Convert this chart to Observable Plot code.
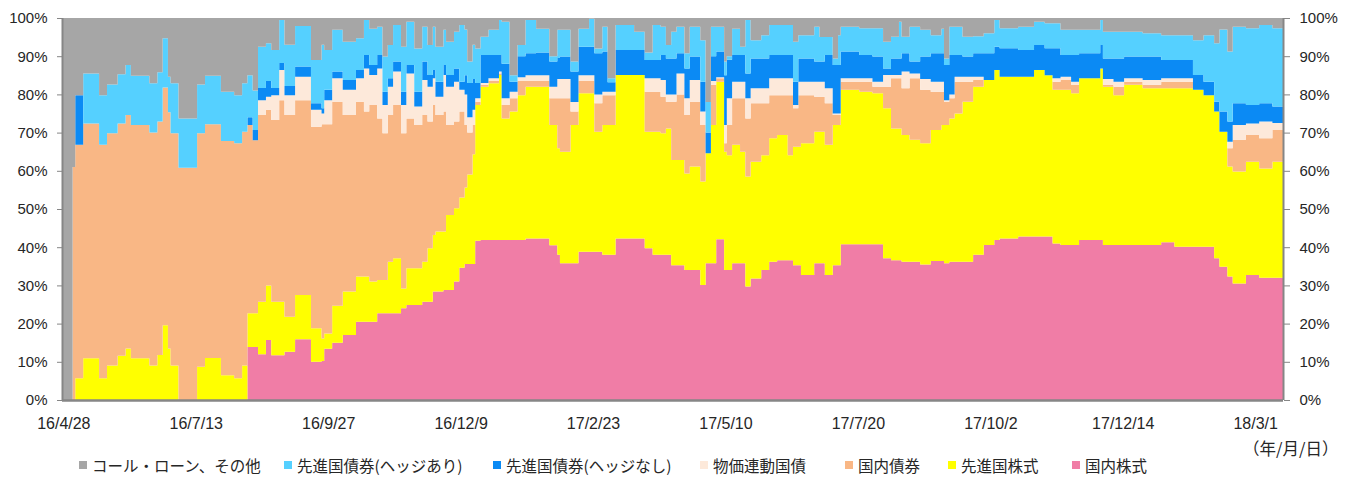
<!DOCTYPE html>
<html><head><meta charset="utf-8">
<script src="https://cdn.jsdelivr.net/npm/d3@7"></script>
<script src="https://cdn.jsdelivr.net/npm/@observablehq/plot@0.6"></script>
<style>
body{margin:0;background:#fff;}
#wrap{position:relative;width:1351px;height:484px;overflow:hidden;}
#unit{position:absolute;left:1243px;top:437px;font:16.5px "Noto Sans CJK JP",sans-serif;color:#262626;white-space:nowrap;line-height:22px;}
.item{position:absolute;top:455px;display:flex;align-items:center;white-space:nowrap;font:15.5px "Noto Sans CJK JP",sans-serif;color:#262626;line-height:20px;}
.sw{width:8px;height:8px;margin-right:5px;}
</style></head><body>
<div id="wrap"></div>
<script>
// ---- DATA ----
const tickLabels = ["16/4/28","16/7/13","16/9/27","16/12/9","17/2/23","17/5/10","17/7/20","17/10/2","17/12/14","18/3/1"];
const labelEvery = 50;          // business days between labels
const categoryCount = 461;      // business days in chart
const seriesNames = ["国内株式","先進国株式","国内債券","物価連動国債","先進国債券(ヘッジなし)","先進国債券(ヘッジあり)","コール・ローン、その他"];
const seriesColors = ["#F07DA6","#FFFF00","#F9B785","#FDE9DA","#0B8AF4","#55D0FF","#A6A6A6"];

// business-day index where each reading starts
const idx = [0,4,5,8,14,17,21,24,26,33,36,38,40,41,44,51,54,60,65,68,70,72,74,77,79,82,84,88,94,98,99,102,106,111,114,116,119,121,123,125,128,130,133,136,138,140,141,144,145,148,150,152,153,155,156,158,161,165,166,169,172,175,179,184,187,188,192,195,199,201,204,206,209,216,220,223,226,228,230,232,235,237,241,243,245,247,250,251,253,256,258,260,264,267,270,274,276,278,279,284,286,288,291,293,294,301,306,310,313,316,317,320,324,328,332,333,335,337,340,344,348,352,354,361,367,371,374,377,381,384,392,393,397,401,408,415,420,427,431,435,437,440,442,447,452,457];

const domesticEquity = [0,0,0,0,0,0,0,0,0,0,0,0,0,0,0,0,0,0,0,0,13.9,13.9,12,15.7,11.7,11.7,12.6,15.9,10,10.2,13.4,15,17,20.5,20.5,20.5,22.7,22.7,22.7,22.7,24,24.9,24.9,25.7,25.7,28.4,28.4,28.8,28.8,31,34.6,35.6,35.6,35.6,41.7,41.9,41.9,41.9,41.9,41.9,41.9,42.3,42.3,40.5,38,35.8,35.8,38.8,38.8,38.8,38,38,42.3,42.3,39.7,38,38,38,35.3,35.3,34,34,30.1,35.8,35.8,42.1,34,34,35.8,35.8,29.7,31.8,34,36.2,36.6,36.6,35.3,35.3,32.7,35.8,35.8,32.7,35.3,35.3,40.8,40.8,40.8,37.1,36.6,36.6,36.2,36.2,35.5,36.4,36.4,35.8,36.2,36.2,36.2,38,40.6,41.9,42.3,42.8,42.8,42.8,41,40.6,40.6,41.9,41.9,40.6,40.6,40.6,40.6,41.3,40.1,40.1,40.1,37.1,34.9,32.3,30.5,32.7,32,32];

const foreignEquity = [0,0,5.7,10.9,5.7,9,11.6,13.5,10.9,9,11.8,19.6,13.5,9,0,8.7,11,6.5,5.7,9,8.8,8.8,13.7,14.3,14,14,9.2,11.6,8.8,5.9,4,9.7,11.4,11.8,11.8,10.5,8.7,8.7,13.5,14.4,5.2,9.6,9.6,10.5,14,14.8,15.7,15.3,19.6,19.2,18.4,20,23.4,28.7,35.5,40.1,41,43.2,31.8,33.6,37.9,39.7,39.7,31.5,27.9,29.2,36.2,41.5,41.5,31.4,34,34,42.8,42.8,30.5,32.2,31.8,33.1,27.5,27.5,25.3,27.1,27.1,28.8,36.2,41.2,31,30.1,31,29.2,28.8,30.6,30.1,32.3,32.8,27.5,31,31,34.5,34.4,34.4,34.1,36.7,36.7,40.4,39.9,39.5,39.3,34.5,34.5,33.2,31.9,31.7,34.3,35.6,36.2,37.5,38.8,41.9,44,43.2,44.5,42.3,41.8,43.6,42.2,40.2,40.6,39.7,42.3,44.9,41.4,39.2,41.9,41,40.3,41.5,41.1,39.7,38.4,35.3,28.8,29.3,29.7,28.6,30.4];

const domesticBond = [0,61,61.1,61.5,61.1,60.8,60.8,61.1,61.1,61,61.1,62.2,61.8,60.8,60.8,61.1,61.2,61.3,61.5,61.2,49.3,45.3,48.9,46,47.6,52.8,52.8,51,52.7,56.1,54.8,53.3,46.2,45.8,43.2,46.2,42.3,38.4,38.4,40.1,40.6,39.2,37.5,38.4,33.2,34,30.5,31.4,23.6,22.7,22.5,16.4,11,7.7,0.8,0.5,0.6,0.4,3.5,3.5,3.7,1.5,1.5,7,13.1,14,3.5,3.2,3.2,7.5,7.8,7.8,0,0,10.5,10.5,9.6,7,15.3,17.2,15.3,17,14.8,0,10.5,0.9,2.2,7.9,12.2,14,15.2,15.3,13.6,11.3,10.4,15.7,10.1,13.5,12.6,9.2,9.2,10.9,2.6,2.6,2.1,2.6,1.7,5.6,13.1,13.1,12.2,16.1,14,10,8.7,6.1,5.3,8.3,5.2,1.8,0,0,0,0,0,0,2.1,2.6,2.2,0,0,0.5,2.2,0.8,0.9,1.7,1.7,0,0,0,0,4.8,8.3,7,7.9,8.3];

const inflationBond = [0,0,0,0,0,0,0,0,0,0,0,0,0,0,0,0,0,0,0,0,0,0,3.9,3.4,6.5,7.9,5.2,6.1,4.5,2.8,6.3,6.2,6.6,6.1,11.3,7.9,13.1,7.4,7.4,8.8,7.4,11.8,4.8,9.2,9.1,7,4.8,9.6,10,10.4,5.7,8,4,4,1,0.5,0.7,0.5,1.8,1.7,1,1.5,1.5,3,5,5,2.5,1.5,1.5,2.3,0.9,0.9,0,0,3.5,3.5,4.4,1.9,1.9,5.5,4.4,5.7,3.5,0,1,0.3,4.8,7,4.3,4.3,5.3,3.9,3.9,4.4,4.4,4.4,0.8,3.5,3.5,3.9,3.9,3.9,0.4,0.4,0.9,0.9,1.3,3.1,0.9,0.9,4.4,1.3,2.8,2.6,2.6,0.4,1,1.3,1.3,0.8,0,0,0,0,0,0,0.9,0.8,0.8,0,0,1.5,1.3,0.9,1.3,0.9,0.9,0,0,0,0,1.7,3.9,3,4.4,1.8];

const foreignBondUnhedged = [0,0,13,0,0,0,0,0,0,0,0,0,0,0,0,0,0,0,0,0,2,2.7,3.2,4.1,1.9,1.8,2.4,2.7,1.7,1.4,2.7,1.8,2.6,2.2,3.5,2.6,3.5,3.5,2.2,2.6,3.5,2.2,3.9,4.8,3.1,2.2,3.9,2.6,3.1,3.5,2.1,5,9,8,4,7.3,6.1,4.3,9,2.6,5.5,5.8,6,6.6,5.5,5.9,8,7.5,7.5,10.8,10.5,2.5,6.5,6.5,4.8,4.8,6.5,9.4,9.4,5.3,7.8,6.1,7.8,5.4,6.5,6.7,13,10.1,7,7,6.5,7.8,7.8,6.1,6.1,6.1,6.1,6.1,6.1,5.3,5.3,8.7,12.7,12.7,7,6.1,6.6,1.7,4.3,4.3,4.8,3.1,5.9,7.5,7.5,9.2,10.3,5.7,5.3,6.2,7,6.1,7.5,7,6.5,7.1,7.9,5.7,7,6.6,6.1,5.4,6.1,5.7,6.1,4.8,4.8,3.9,3.5,2.6,5.3,5.3,5.7,4.8,4.8,4.3];

const foreignBondHedged = [0,0,0,13.1,13,12.8,12.9,13.1,12.9,12.9,12.9,12.9,9.3,13.1,12.9,12.8,12.7,12.9,12.6,12.7,11,10.3,10.8,9.9,9.9,11.3,10.8,10.6,11.3,16.6,10.4,10.9,10,8.3,9.2,9.5,7.4,9.2,8.7,9.6,11.8,11.3,11.3,9.1,7.8,11.3,9.2,9.2,8.7,9.6,14.9,12,5.6,9,9,4.8,6.6,9.2,11,1.7,2.9,8.7,6.2,1.4,7.4,7,2.6,4.7,7.3,1.2,6.5,1,6.6,4.8,2,9.2,7.4,3.5,7,6.9,4,7.8,10.9,8,7.7,6.5,3.6,0.9,6.9,2.2,14,4.8,6.1,7.9,7.9,7.9,10.5,6.1,6.1,9.1,6.4,4.7,1.7,7.8,6.5,7,7.4,7,5.7,9.6,4.3,9.1,7,4.7,6.4,1.7,7.4,7.4,5.2,4.4,5.2,7,5.2,6.1,6.1,6.5,6.5,6.6,6.6,6.1,6.6,7,7,6.5,6.1,6.5,6.5,9.1,12.2,15.3,21.5,18.3,20,20.1,20.5,20.5];

const callLoanOther = [100,39,20.2,14.5,20.2,17.4,14.7,12.3,15.1,17.1,14.2,5.3,15.4,17.1,26.3,17.4,15.1,19.3,20.2,17.1,15,19,7.5,6.6,8.4,0.5,7,2.1,11,7,8.4,3.1,6.2,5.3,0.5,2.8,2.3,10.1,7.1,1.8,7.5,1,8,2.3,7.1,2.3,7.5,3.1,6.2,3.6,1.8,3,11.4,7,8,4.9,3.1,0.5,1,15,7.1,0.5,2.8,10,3.1,3.1,11.4,2.8,0.2,8,2.3,15.8,1.8,3.6,9,1.8,2.3,7.1,3.6,2.3,9.2,2.3,5.8,22,2.3,2.3,11.4,10,2.8,7.5,0.5,5.8,4.5,1.8,1.8,1.8,6.2,4.5,4.5,2.3,5,5,10.6,4.5,2.3,2.7,2.7,6.2,4.9,1,4.9,2.3,3.1,4.5,2.8,10.6,2.3,2.3,4.9,4.8,4,0.5,2.7,2.3,1,1.4,1.4,3.1,3.1,3.1,0.5,3.6,3.6,3.6,4,4.5,4.5,5.8,4.5,6.6,3,8.8,2.3,2.7,1.8,2.7];

const yTicks = [0,10,20,30,40,50,60,70,80,90,100];

// ---- BUILD ----
const seriesValues = [domesticEquity, foreignEquity, domesticBond, inflationBond, foreignBondUnhedged, foreignBondHedged, callLoanOther];
const rows = [];
seriesNames.forEach((name, s) => {
  const vals = seriesValues[s];
  idx.forEach((x, k) => rows.push({x, v: vals[k], s: name}));
  rows.push({x: categoryCount, v: vals[vals.length - 1], s: name});
});
const tickPos = tickLabels.map((_, k) => k * labelEvery + 0.5);

const axisColor = "#868686";
const textColor = "#262626";
const chart = Plot.plot({
  width: 1351, height: 440,
  marginLeft: 62, marginRight: 68, marginTop: 18, marginBottom: 40,
  x: {domain: [0, categoryCount], axis: null, label: null},
  y: {domain: [0, 100], axis: null, label: null},
  color: {domain: seriesNames, range: seriesColors},
  style: {fontFamily: "'Liberation Sans', Arial, sans-serif", color: textColor, background: "#fff"},
  marks: [
    Plot.areaY(rows, Plot.stackY({order: seriesNames}, {x: "x", y: "v", z: "s", fill: "s", curve: "step-after", clip: true})),
    Plot.ruleX([0, categoryCount], {stroke: axisColor, strokeWidth: 2}),
    Plot.ruleY([0], {stroke: axisColor, strokeWidth: 2.5}),
    Plot.axisY(yTicks, {anchor: "left", label: null, tickSize: 5, tickPadding: 10, tickFormat: d => d + "%", stroke: axisColor, fill: textColor, fontSize: 15}),
    Plot.axisY(yTicks, {anchor: "right", label: null, tickSize: 6, tickPadding: 10, tickFormat: d => d + "%", stroke: axisColor, fill: textColor, fontSize: 15}),
    Plot.axisX(tickPos, {anchor: "bottom", label: null, tickSize: 0, tickPadding: 17, tickFormat: d => tickLabels[tickPos.indexOf(d)], fill: textColor, fontSize: 16})
  ]
});
const wrap = document.getElementById("wrap");
wrap.appendChild(chart);

const unit = document.createElement("div");
unit.id = "unit";
unit.textContent = "（年/月/日）";
wrap.appendChild(unit);

// legend (top-to-bottom stack order reversed)
const legendLeft = [79, 284, 493, 700, 845, 948, 1072];
const legendNames = seriesNames.slice().reverse();
const legendColors = seriesColors.slice().reverse();
legendNames.forEach((n, k) => {
  const it = document.createElement("div");
  it.className = "item";
  it.style.left = legendLeft[k] + "px";
  const sw = document.createElement("span");
  sw.className = "sw";
  sw.style.background = legendColors[k];
  const tx = document.createElement("span");
  tx.textContent = n;
  it.appendChild(sw); it.appendChild(tx);
  wrap.appendChild(it);
});
</script>
</body></html>
